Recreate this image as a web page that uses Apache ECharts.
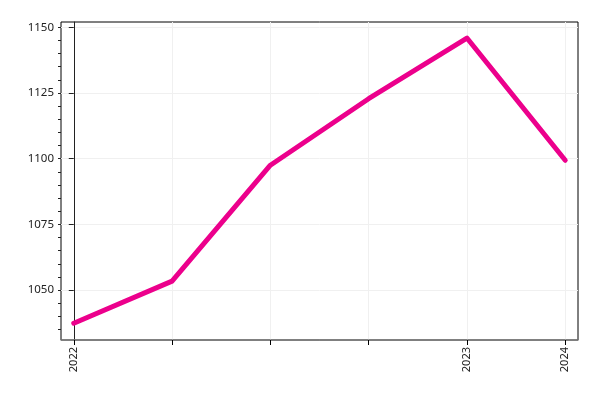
<!DOCTYPE html>
<html><head><meta charset="utf-8">
<script src="https://cdn.jsdelivr.net/npm/echarts@6/dist/echarts.min.js"></script>
<style>html,body{margin:0;padding:0;background:#fff}#c{width:600px;height:400px}</style>
</head><body><div id="c"></div>
<script>
const xLabels = ['2022', '', '', '', '2023', '2024'];
const values = [1037.4, 1053.4, 1097.5, 1122.8, 1145.9, 1099.4];
const yMajorTicks = [1050, 1075, 1100, 1125, 1150];
const yMinorTicks = [1035,1040,1045,1050,1055,1060,1065,1070,1075,1080,1085,1090,1095,1100,1105,1110,1115,1120,1125,1130,1135,1140,1145,1150];

const xIdx = xLabels.map((_, i) => i);
const font = '"Noto Sans", sans-serif';
const chart = echarts.init(document.getElementById('c'));
chart.setOption({
  animation: false,
  grid: { left: 61, right: 22, top: 22, bottom: 60, show: true, borderColor: '#000', borderWidth: 1, backgroundColor: 'transparent' },
  xAxis: {
    type: 'value', min: -0.13, max: 5.13,
    axisLine: { show: true, lineStyle: { color: '#808080', width: 1.5 } },
    axisTick: { show: true, length: 5, lineStyle: { color: '#000' }, customValues: xIdx },
    axisLabel: { customValues: xIdx, rotate: 90, fontFamily: font, fontSize: 11, color: '#222', margin: 7,
      formatter: v => xLabels[Math.round(v)] || '' },
    splitLine: { show: true, lineStyle: { color: '#f0f0f0', width: 1 } }
  },
  yAxis: [{
    type: 'value', min: 1031, max: 1152,
    axisLine: { show: true, lineStyle: { color: '#222', width: 1 } },
    axisTick: { show: true, length: 5, lineStyle: { color: '#222' }, customValues: yMajorTicks },
    axisLabel: { customValues: yMajorTicks, fontFamily: font, fontSize: 11.5, color: '#222', margin: 7,
      formatter: v => String(Math.round(v)) },
    splitLine: { show: true, lineStyle: { color: '#f0f0f0', width: 1 } }
  }, {
    type: 'value', min: 1031, max: 1152, position: 'left', offset: 0,
    axisLine: { show: false },
    axisTick: { show: true, length: 3, lineStyle: { color: '#222' }, customValues: yMinorTicks },
    axisLabel: { show: false },
    splitLine: { show: false }
  }],
  series: [{
    type: 'line',
    data: values.map((v, i) => [xIdx[i], v]),
    symbol: 'none',
    lineStyle: { color: '#EC008C', width: 5, cap: 'round', join: 'round' }
  }]
});
</script></body></html>
